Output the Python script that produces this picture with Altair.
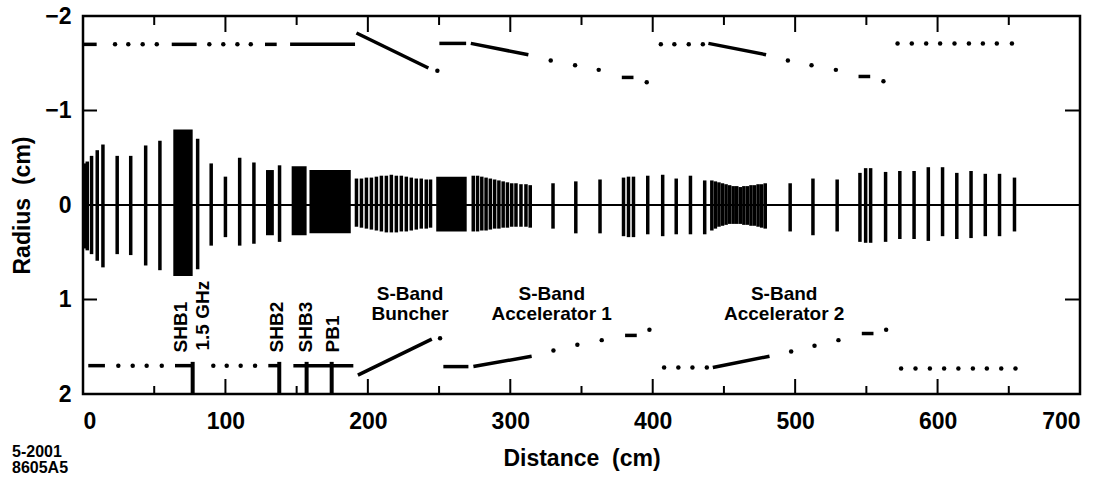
import altair as alt
import pandas as pd

F = "Liberation Sans"

# ---------------- beam envelope: single slices (x in cm, top/bottom radius in cm)
BAR_X = [1, 3, 6, 10, 14, 24, 33.5, 44, 54, 80.5, 90, 100, 110, 120, 138,
         192, 195.5, 199, 202.5, 206, 209.5, 213, 216.5, 220, 223.5, 227, 230.5, 234, 237.5, 241, 244,
         274, 277, 280, 283, 286, 289, 292, 295, 298, 301, 304, 307.5, 311, 314,
         330, 346, 363, 379.5, 383, 386.5, 396.5, 407, 416.5, 426.5, 436.5,
         441.5, 444, 446.5, 449, 451.5, 454, 456.5, 459, 461.5, 464, 466.5, 469, 471.5, 474, 476.5, 479,
         496.5, 512.5, 529.5, 545.5, 549.5, 553, 563.5, 573.5, 583.5, 593.5, 603.5, 613.5, 623.5, 633.5, 643.5, 654]
BAR_TOP = [-0.44, -0.46, -0.52, -0.58, -0.64, -0.52, -0.52, -0.63, -0.68, -0.70, -0.44, -0.30, -0.50, -0.45, -0.42,
           -0.28, -0.28, -0.29, -0.29, -0.30, -0.31, -0.31, -0.32, -0.31, -0.31, -0.30, -0.29, -0.28, -0.28, -0.27, -0.27,
           -0.31, -0.31, -0.30, -0.29, -0.28, -0.27, -0.26, -0.25, -0.24, -0.23, -0.23, -0.22, -0.22, -0.21,
           -0.23, -0.25, -0.27, -0.29, -0.30, -0.30, -0.31, -0.32, -0.28, -0.31, -0.26,
           -0.26, -0.25, -0.24, -0.23, -0.22, -0.21, -0.20, -0.20, -0.19, -0.20, -0.20, -0.21, -0.21, -0.22, -0.22, -0.23,
           -0.23, -0.28, -0.27, -0.34, -0.39, -0.39, -0.35, -0.36, -0.36, -0.40, -0.40, -0.34, -0.36, -0.33, -0.33, -0.29]
BAR_BOT = [0.46, 0.48, 0.52, 0.59, 0.66, 0.52, 0.53, 0.64, 0.69, 0.68, 0.43, 0.34, 0.43, 0.41, 0.39,
           0.23, 0.24, 0.25, 0.26, 0.27, 0.28, 0.29, 0.29, 0.29, 0.28, 0.28, 0.27, 0.26, 0.25, 0.25, 0.24,
           0.28, 0.28, 0.27, 0.27, 0.26, 0.25, 0.25, 0.24, 0.24, 0.23, 0.23, 0.23, 0.23, 0.24,
           0.25, 0.30, 0.30, 0.33, 0.34, 0.34, 0.31, 0.33, 0.31, 0.31, 0.31,
           0.27, 0.25, 0.23, 0.22, 0.21, 0.20, 0.20, 0.20, 0.20, 0.21, 0.21, 0.22, 0.22, 0.23, 0.24, 0.25,
           0.28, 0.32, 0.28, 0.39, 0.40, 0.40, 0.39, 0.36, 0.36, 0.38, 0.33, 0.36, 0.35, 0.33, 0.33, 0.28]

# dense blocks of slices
BLOCK_X0 = [63.4, 128.5, 146.5, 159.0, 248.0]
BLOCK_X1 = [77.0, 134.0, 157.0, 188.0, 269.4]
BLOCK_TOP = [-0.80, -0.37, -0.41, -0.37, -0.30]
BLOCK_BOT = [0.75, 0.32, 0.32, 0.30, 0.28]

# ---------------- aperture (upper, negative radius)
TOP_SEG_X0 = [0, 62.3, 127.8, 145.4, 192, 250.2, 272.3, 378.3, 439.1, 544.5]
TOP_SEG_X1 = [9.6, 79.8, 136, 191, 242.5, 269, 312.7, 386.5, 479.6, 552.7]
TOP_SEG_R0 = [-1.70, -1.70, -1.70, -1.70, -1.82, -1.71, -1.71, -1.35, -1.71, -1.36]
TOP_SEG_R1 = [-1.70, -1.70, -1.70, -1.70, -1.45, -1.71, -1.59, -1.35, -1.59, -1.36]
TOP_DOT_X = [22.5, 31.8, 41.9, 51.8, 88.7, 98.5, 108.4, 117.8, 248.8, 328.4, 345.5, 362.1, 395.8,
             405.7, 415.2, 425.3, 435.2, 494.9, 511.5, 528.6, 562,
             571.9, 581.9, 592, 601.8, 611.9, 622, 631.8, 641.6, 652.2]
TOP_DOT_R = [-1.70, -1.70, -1.70, -1.70, -1.70, -1.70, -1.70, -1.70, -1.42, -1.53, -1.48, -1.43, -1.30,
             -1.70, -1.70, -1.70, -1.70, -1.53, -1.48, -1.43, -1.31,
             -1.71, -1.71, -1.71, -1.71, -1.71, -1.71, -1.71, -1.71, -1.71]

# ---------------- aperture (lower, positive radius)
BOT_SEG_X0 = [3.7, 64.6, 130.1, 147.7, 193, 253, 274.1, 380.6, 442.2, 546.8]
BOT_SEG_X1 = [15.4, 76.3, 138.3, 189.8, 244.9, 270.6, 315, 388.8, 482, 555]
BOT_SEG_R0 = [1.70, 1.70, 1.70, 1.70, 1.80, 1.71, 1.71, 1.38, 1.72, 1.36]
BOT_SEG_R1 = [1.70, 1.70, 1.70, 1.70, 1.42, 1.71, 1.60, 1.38, 1.60, 1.36]
BOT_DOT_X = [24.8, 34.9, 44.7, 55.3, 91.5, 100.9, 110.7, 120.8, 250.7, 330.3, 347.1, 364.2, 397.7,
             408, 418, 427.9, 438, 497.2, 513.6, 530.4, 563.9,
             574.4, 584.5, 594.6, 604.6, 614.6, 624.8, 634.6, 644.7, 654.7]
BOT_DOT_R = [1.70, 1.70, 1.70, 1.70, 1.70, 1.70, 1.70, 1.70, 1.41, 1.54, 1.48, 1.43, 1.32,
             1.72, 1.72, 1.72, 1.72, 1.55, 1.49, 1.43, 1.32,
             1.73, 1.73, 1.73, 1.73, 1.73, 1.73, 1.73, 1.73, 1.73]

# cavity markers
CAV_X = [77, 137.8, 157, 174.6]
CAV_R0 = [1.66, 1.66, 1.66, 1.66]
CAV_R1 = [2.0, 2.0, 2.0, 2.0]

# labels
VLAB_TEXT = ["SHB1", "1.5 GHz", "SHB2", "SHB3", "PB1"]
VLAB_X = [69, 84, 136.3, 156.3, 175.2]
VLAB_R = [1.56, 1.54, 1.56, 1.56, 1.56]
HLAB_TEXT = ["S-Band\nBuncher", "S-Band\nAccelerator 1", "S-Band\nAccelerator 2"]
HLAB_X = [229.6, 329.1, 492.3]
HLAB_R = [1.0, 1.0, 1.0]

X_MAJOR = [100, 200, 300, 400, 500, 600]
X_MINOR = [50, 150, 250, 350, 450, 550, 650]
Y_TICKS_LEFT = [-1, 0, 1]
Y_TICKS_RIGHT = [-1, 1]

W, H = 997, 378

XS = alt.Scale(domain=[0, 700], nice=False, zero=False)
YS = alt.Scale(domain=[-2, 2], reverse=True, nice=False, zero=False)
XAX = alt.Axis(values=[0, 100, 200, 300, 400, 500, 600, 700], ticks=False, domain=False, grid=False,
               labelFontSize=23, labelFont=F, labelFontWeight="bold", labelColor="black", labelPadding=16,
               titleFontSize=23, titleFont=F, titleFontWeight="bold", titleColor="black", titlePadding=14)
YAX = alt.Axis(values=[-2, -1, 0, 1, 2], ticks=False, domain=False, grid=False, format="d",
               labelFontSize=23, labelFont=F, labelFontWeight="bold", labelColor="black", labelPadding=12,
               titleFontSize=23, titleFont=F, titleFontWeight="bold", titleColor="black", titlePadding=10)
XT = "Distance\u00a0\u00a0(cm)"
YT = "Radius\u00a0\u00a0(cm)"


def X(f):
    return alt.X(f, type="quantitative", scale=XS, axis=XAX, title=XT)


def Y(f):
    return alt.Y(f, type="quantitative", scale=YS, axis=YAX, title=YT)


bars = pd.DataFrame({"x": BAR_X, "top": BAR_TOP, "bot": BAR_BOT})
blocks = pd.DataFrame({"x0": BLOCK_X0, "x1": BLOCK_X1, "top": BLOCK_TOP, "bot": BLOCK_BOT})

seg_rows = []
for i, (a, b, r0, r1) in enumerate(zip(TOP_SEG_X0, TOP_SEG_X1, TOP_SEG_R0, TOP_SEG_R1)):
    seg_rows.append({"seg": f"t{i}", "x": a, "r": r0})
    seg_rows.append({"seg": f"t{i}", "x": b, "r": r1})
for i, (a, b, r0, r1) in enumerate(zip(BOT_SEG_X0, BOT_SEG_X1, BOT_SEG_R0, BOT_SEG_R1)):
    seg_rows.append({"seg": f"b{i}", "x": a, "r": r0})
    seg_rows.append({"seg": f"b{i}", "x": b, "r": r1})
segs = pd.DataFrame(seg_rows)
dots = pd.DataFrame({"x": TOP_DOT_X + BOT_DOT_X, "r": TOP_DOT_R + BOT_DOT_R})
cav = pd.DataFrame({"x": CAV_X, "r0": CAV_R0, "r1": CAV_R1})
vlab = pd.DataFrame({"t": VLAB_TEXT, "x": VLAB_X, "r": VLAB_R})
hlab = pd.DataFrame({"t": HLAB_TEXT, "x": HLAB_X, "r": HLAB_R})
xmaj = pd.DataFrame({"x": X_MAJOR})
xmin = pd.DataFrame({"x": X_MINOR})
ytl = pd.DataFrame({"y": Y_TICKS_LEFT})
ytr = pd.DataFrame({"y": Y_TICKS_RIGHT})
one = pd.DataFrame({"t": ["5-2001\n8605A5"]})

zero_line = alt.Chart(pd.DataFrame({"x": [0], "x2": [700], "y": [0]})).mark_rule(
    color="black", strokeWidth=2).encode(x=X("x"), x2="x2", y=Y("y"))

bar_layer = alt.Chart(bars).mark_rule(color="black", strokeWidth=3.5).encode(
    x=X("x"), y=Y("top"), y2="bot")
block_layer = alt.Chart(blocks).mark_rect(color="black").encode(
    x=X("x0"), x2="x1", y=Y("top"), y2="bot")
seg_layer = alt.Chart(segs).mark_line(color="black", strokeWidth=3.5).encode(
    x=X("x"), y=Y("r"), detail="seg")
dot_layer = alt.Chart(dots).mark_circle(color="black", size=20, opacity=1).encode(
    x=X("x"), y=Y("r"))
cav_layer = alt.Chart(cav).mark_rule(color="black", strokeWidth=4).encode(
    x=X("x"), y=Y("r0"), y2="r1")
vlab_layer = alt.Chart(vlab).mark_text(angle=270, align="left", baseline="middle",
                                      fontSize=19, font=F, fontWeight="bold", color="black").encode(
    x=X("x"), y=Y("r"), text="t")
hlab_layer = alt.Chart(hlab).mark_text(align="center", baseline="alphabetic", lineBreak="\n",
                                      lineHeight=20, fontSize=19, font=F, fontWeight="bold",
                                      color="black").encode(
    x=X("x"), y=Y("r"), text="t")

xt_bot_maj = alt.Chart(xmaj).mark_rule(color="black", strokeWidth=2).encode(
    x=X("x"), y=alt.value(H), y2=alt.value(H - 15))
xt_top_maj = alt.Chart(xmaj).mark_rule(color="black", strokeWidth=2).encode(
    x=X("x"), y=alt.value(0), y2=alt.value(16))
xt_bot_min = alt.Chart(xmin).mark_rule(color="black", strokeWidth=2).encode(
    x=X("x"), y=alt.value(H), y2=alt.value(H - 8))
xt_top_min = alt.Chart(xmin).mark_rule(color="black", strokeWidth=2).encode(
    x=X("x"), y=alt.value(0), y2=alt.value(9))
yt_left = alt.Chart(ytl).mark_rule(color="black", strokeWidth=2).encode(
    y=Y("y"), x=alt.value(0), x2=alt.value(14))
yt_right = alt.Chart(ytr).mark_rule(color="black", strokeWidth=2).encode(
    y=Y("y"), x=alt.value(W), x2=alt.value(W - 15))

note = alt.Chart(one).mark_text(align="left", baseline="alphabetic", lineBreak="\n", lineHeight=16,
                                fontSize=16, fontWeight="bold", font=F, color="black").encode(
    x=alt.value(-71), y=alt.value(441), text="t")

chart = alt.layer(
    zero_line, block_layer, bar_layer, seg_layer, dot_layer, cav_layer,
    xt_bot_maj, xt_top_maj, xt_bot_min, xt_top_min, yt_left, yt_right,
    vlab_layer, hlab_layer, note
).properties(
    width=W, height=H,
    autosize=alt.AutoSizeParams(type="none"),
    padding={"left": 83, "top": 16, "right": 31, "bottom": 84},
    background="white",
).configure_view(stroke="black", strokeWidth=2.5)

chart.save("out.html", embed_options={"renderer": "svg", "actions": False})
